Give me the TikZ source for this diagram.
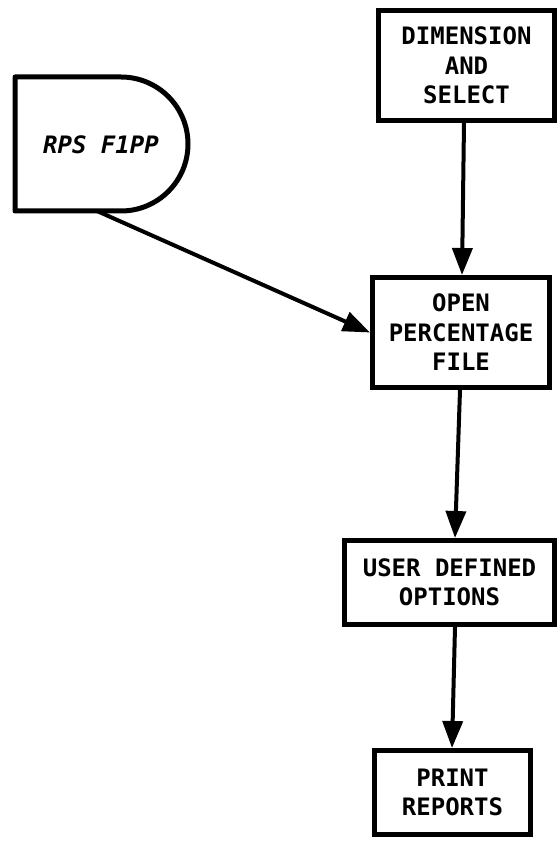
\documentclass[tikz,border=0pt]{standalone}
\usepackage{fontspec}
\newfontfamily\lblfont{DejaVu Sans Mono}
\usetikzlibrary{arrows.meta}
\begin{document}
\begin{tikzpicture}[x=1pt,y=1pt,
  lbl/.style={font=\lblfont\bfseries\fontsize{24}{29.5}\selectfont, align=center},
  procbox/.style={lbl, draw=black, line width=5pt, inner sep=0pt},
  flow/.style={line width=4pt, -{Triangle[length=27pt,width=20pt]}}]
\useasboundingbox[fill=white] (0,0) rectangle (559,-842);
% RPS F1PP stored-data shape
\draw[line width=5pt, line join=round] (121,-77) -- (15,-77) -- (15,-211) -- (121,-211)
  arc[start angle=-90, end angle=90, radius=67pt] -- cycle;
\node[lbl, font=\lblfont\bfseries\slshape\fontsize{24}{29.5}\selectfont, inner sep=0pt] (rps) at (101,-145) {RPS F1PP};
\coordinate (rpsout) at (97,-211);
% process boxes
\node[procbox, minimum width=176pt, minimum height=110pt] (dim) at (466.5,-65.5) {DIMENSION\\AND\\SELECT};
\node[procbox, minimum width=177pt, minimum height=110pt] (open) at (461,-332.5) {OPEN\\PERCENTAGE\\FILE};
\node[procbox, minimum width=210pt, minimum height=84pt] (user) at (449.5,-582.5) {USER DEFINED\\OPTIONS};
\node[procbox, minimum width=156pt, minimum height=84pt] (print) at (452.5,-792.5) {PRINT\\REPORTS};
% connectors
\draw[flow] ([xshift=-2.5pt]dim.south) -- ([xshift=1pt]open.north);
\draw[flow] (rpsout) -- (open.west);
\draw[flow] ([xshift=-1pt]open.south) -- ([xshift=5.5pt]user.north);
\draw[flow] ([xshift=5.5pt]user.south) -- ([xshift=-0.5pt]print.north);
\end{tikzpicture}
\end{document}
